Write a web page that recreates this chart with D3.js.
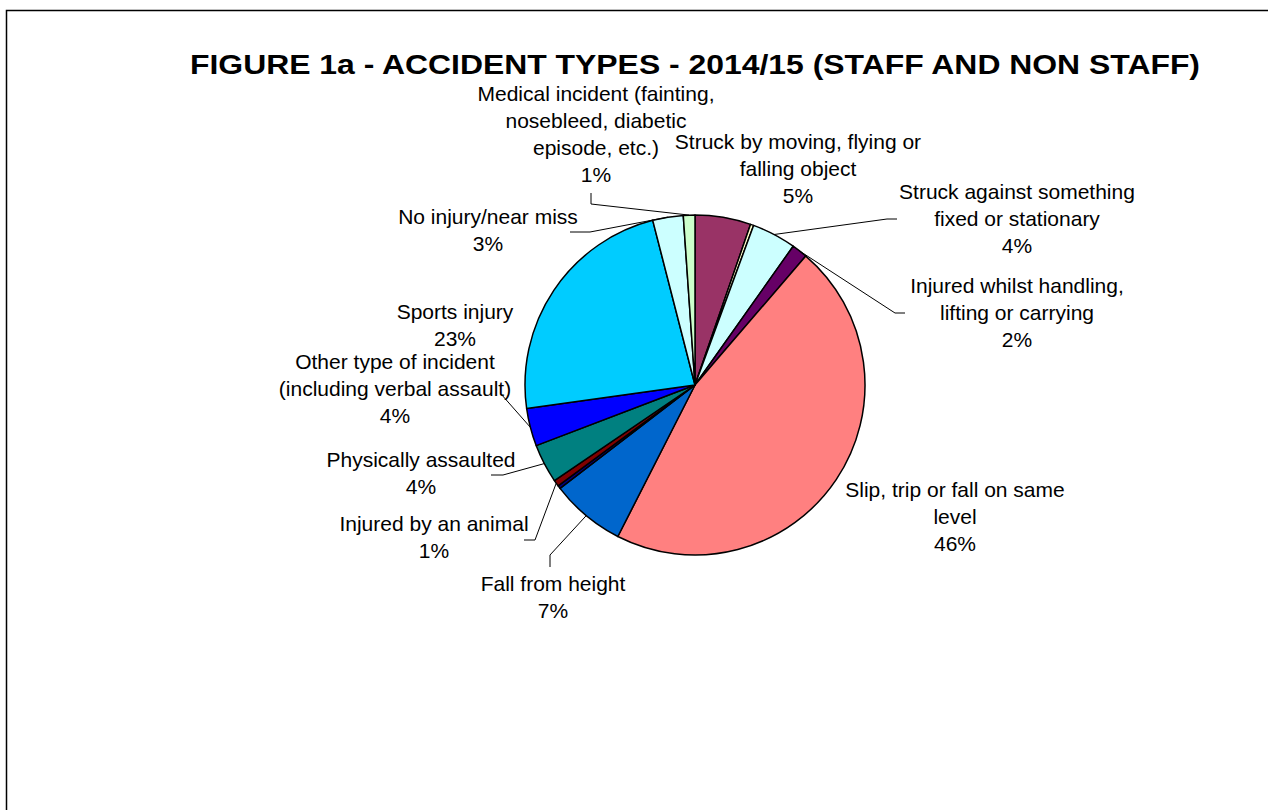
<!DOCTYPE html>
<html>
<head>
<meta charset="utf-8">
<script src="https://cdn.jsdelivr.net/npm/d3@7"></script>
<style>
  html, body { margin: 0; padding: 0; background: #ffffff; }
  svg { display: block; }
  text { font-family: "Liberation Sans", Arial, sans-serif; fill: #000; }
</style>
</head>
<body>
<svg id="chart" width="1268" height="810"></svg>
<script>
// Accident types, share of all reported incidents (clockwise from 12 o'clock)
const categories = [
  "Struck by moving, flying or\nfalling object",
  "",
  "Struck against something\nfixed or stationary",
  "Injured whilst handling,\nlifting or carrying",
  "Slip, trip or fall on same\nlevel",
  "Fall from height",
  "",
  "Injured by an animal",
  "Physically assaulted",
  "Other type of incident\n(including verbal assault)",
  "Sports injury",
  "No injury/near miss",
  "Medical incident (fainting,\nnosebleed, diabetic\nepisode, etc.)"
];
const values = [5.3, 0.3, 4.2, 1.5, 46.2, 7.1, 0.3, 0.6, 3.7, 3.6, 23.2, 2.9, 1.1];
const sliceColors = [
  "#993366", "#FFFFCC", "#CCFFFF", "#660066", "#FF8080", "#0066CC",
  "#000080", "#800000", "#008080", "#0000FF", "#00CCFF", "#CCFFFF", "#CCFFCC"
];

// Label placement: centre x, first baseline y, and leader points on the label side
const labelLayout = [
  { x: 798, y: 149, leader: null },
  null,
  { x: 1017, y: 199, leader: [[897, 219], [887, 219]] },
  { x: 1017, y: 293, leader: [[905, 313], [895, 313]] },
  { x: 955, y: 497, leader: null },
  { x: 553, y: 591, leader: [[550, 567], [550, 555]] },
  null,
  { x: 434, y: 531, leader: [[524, 540], [535, 540]] },
  { x: 421, y: 467, leader: [[491, 475], [503, 475]] },
  { x: 395, y: 369, leader: [[501, 394]] },
  { x: 455, y: 319, leader: null },
  { x: 488, y: 224, leader: [[570, 232], [590, 232]] },
  { x: 596, y: 101, leader: [[591, 193], [591, 204]] }
];

const titleText = "FIGURE 1a - ACCIDENT TYPES - 2014/15 (STAFF AND NON STAFF)";

const svg = d3.select("#chart");
const cx = 695, cy = 385, radius = 170;
const lineGap = 27;
const total = d3.sum(values);

// outer frame
svg.append("path")
  .attr("d", "M6.5,812 V10.5 H1270")
  .attr("fill", "none")
  .attr("stroke", "#000")
  .attr("stroke-width", 1.5);

// title
svg.append("text")
  .attr("x", cx)
  .attr("y", 74)
  .attr("text-anchor", "middle")
  .attr("font-size", 27)
  .attr("font-weight", "bold")
  .attr("textLength", 1010)
  .attr("lengthAdjust", "spacingAndGlyphs")
  .text(titleText);

const pie = d3.pie().sort(null).value(d => d);
const arcs = pie(values);
const arc = d3.arc().innerRadius(0).outerRadius(radius);

const g = svg.append("g").attr("transform", `translate(${cx},${cy})`);

g.selectAll("path.slice")
  .data(arcs)
  .join("path")
  .attr("class", "slice")
  .attr("d", arc)
  .attr("fill", (d, i) => sliceColors[i])
  .attr("stroke", "#000")
  .attr("stroke-width", 1.5)
  .attr("stroke-linejoin", "round");

// leader lines: label side points, then the slice edge at mid-angle
const edgePoint = d => {
  const a = (d.startAngle + d.endAngle) / 2;
  return [cx + radius * Math.sin(a), cy - radius * Math.cos(a)];
};

arcs.forEach((d, i) => {
  const lay = labelLayout[i];
  if (!lay || !lay.leader) return;
  const pts = lay.leader.concat([edgePoint(d)]);
  svg.append("path")
    .attr("d", d3.line()(pts))
    .attr("fill", "none")
    .attr("stroke", "#000")
    .attr("stroke-width", 1);
});

// labels
arcs.forEach((d, i) => {
  const lay = labelLayout[i];
  if (!lay || !categories[i]) return;
  const lines = categories[i].split("\n");
  lines.push(Math.round(d.data / total * 100) + "%");
  const t = svg.append("text")
    .attr("text-anchor", "middle")
    .attr("font-size", 21);
  lines.forEach((ln, k) => {
    t.append("tspan")
      .attr("x", lay.x)
      .attr("y", lay.y + k * lineGap)
      .text(ln);
  });
});
</script>
</body>
</html>
